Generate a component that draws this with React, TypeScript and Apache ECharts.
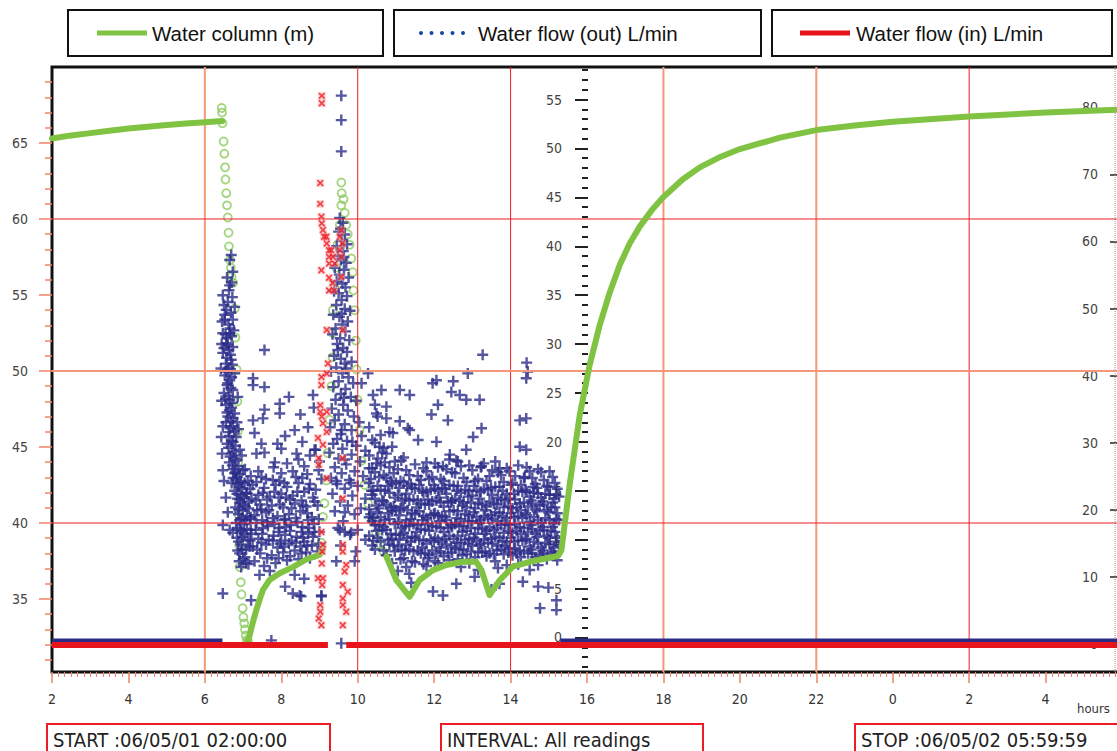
import React, { useEffect, useRef } from "react";
import * as echarts from "echarts";

// ---------- axis ranges / tick values ----------
const X_MIN = 2;
const X_MAX = 30;
const LEFT_MIN = 30.2;
const LEFT_MAX = 70;
const MID_MIN = -3.53;
const MID_MAX = 58.33;
const RIGHT_MIN = -4.17;
const RIGHT_MAX = 86;

const leftMajorTicks = [35, 40, 45, 50, 55, 60, 65];
const leftMinorTicks = [31, 32, 33, 34, 36, 37, 38, 39, 41, 42, 43, 44, 46, 47, 48, 49, 51, 52, 53, 54, 56, 57, 58, 59, 61, 62, 63, 64, 66, 67, 68, 69];
const midMajorTicks = [0, 5, 10, 15, 20, 25, 30, 35, 40, 45, 50, 55];
const midMinorTicks = [-3, -2, -1, 1, 2, 3, 4, 6, 7, 8, 9, 11, 12, 13, 14, 16, 17, 18, 19, 21, 22, 23, 24, 26, 27, 28, 29, 31, 32, 33, 34, 36, 37, 38, 39, 41, 42, 43, 44, 46, 47, 48, 49, 51, 52, 53, 54, 56, 57, 58];
const rightTicks = [0, 10, 20, 30, 40, 50, 60, 70, 80];

const salmonGridX = [6, 18, 22];
const redGridX = [10, 14, 26];
const salmonGridY = [50];
const redGridY = [60, 40];
const rightEdgeHour = 29.82;

// ---------- Water column (m), left axis ----------
const waterColumnStart = [[2, 65.3], [2.5, 65.5], [3, 65.65], [3.5, 65.8], [4, 65.95], [4.5, 66.07], [5, 66.18], [5.5, 66.28], [6, 66.36], [6.46, 66.45]];
const waterColumnRefill = [[7.12, 32.2], [7.17, 32.6], [7.26, 33.5], [7.35, 34.3], [7.45, 35.1], [7.52, 35.6], [7.69, 36.25], [7.96, 36.7], [8.3, 37.1], [8.65, 37.6], [9.0, 37.9], [9.08, 38.2]];
const waterColumnRecovery = [[10.75, 37.8], [11.01, 36.25], [11.36, 35.15], [11.62, 36.25], [11.97, 36.9], [12.32, 37.24], [12.75, 37.45], [13.1, 37.45], [13.24, 36.9], [13.45, 35.26], [13.72, 36.25], [14.06, 37.13], [14.5, 37.45], [14.94, 37.68], [15.24, 37.83], [15.33, 38.2], [15.55, 42.6], [15.81, 47.1], [16.07, 50.4], [16.33, 53.0], [16.6, 55.2], [16.86, 57.0], [17.12, 58.4], [17.38, 59.5], [17.7, 60.6], [17.98, 61.4], [18.5, 62.6], [18.95, 63.4], [19.5, 64.1], [20.0, 64.6], [21.05, 65.35], [22.0, 65.85], [23.0, 66.15], [24.0, 66.4], [26.0, 66.75], [28.0, 67.0], [30.0, 67.2]];
const waterColumnDropReadings = [[6.44, 67.3], [6.45, 67.0], [6.46, 66.3], [6.49, 65.1], [6.51, 64.3], [6.53, 63.4], [6.54, 62.6], [6.56, 61.7], [6.58, 60.9], [6.6, 60.1], [6.62, 59.1], [6.63, 58.2], [6.66, 57.3], [6.68, 56.8], [6.7, 56.2], [6.74, 55.8], [6.78, 54.1], [6.8, 52.2], [6.83, 50.1], [6.85, 48.0], [6.86, 46.0], [6.87, 44.0], [6.88, 42.5], [6.89, 40.5], [6.9, 38.5], [6.91, 37.1], [6.94, 36.1], [6.96, 35.3], [6.99, 34.4], [7.01, 33.8], [7.03, 33.4], [7.05, 33.0], [7.07, 32.6], [7.1, 32.3], [7.13, 32.2]];
const waterColumnSpikeReadings = [[9.05, 38.7], [9.09, 40.4], [9.13, 41.3], [9.18, 42.8], [9.21, 44.6], [9.26, 46.8], [9.31, 49.0], [9.34, 50.9], [9.34, 52.5], [9.35, 54.0], [9.4, 55.5], [9.44, 56.8], [9.47, 58.3], [9.53, 59.6], [9.57, 60.9], [9.58, 61.7], [9.57, 62.4], [9.63, 61.3], [9.66, 60.4], [9.7, 59.6], [9.74, 59.0], [9.79, 58.3], [9.83, 57.4], [9.87, 56.5], [9.89, 55.3], [9.92, 54.0], [9.95, 52.0], [9.97, 50.1], [10.0, 48.1], [10.05, 46.1], [10.1, 44.1], [10.18, 42.5], [10.27, 41.3], [10.37, 40.2], [10.48, 39.3], [10.58, 38.6], [10.68, 38.1]];

// ---------- Water flow (out) L/min, middle axis ----------
const flowOutBaseline = [[2, -0.3], [6.46, -0.3], [6.47, null], [15.3, -0.3], [30, -0.3]];
const flowOutSpikeLeft = [[6.69, 39.1], [6.65, 38.6], [6.73, 37.4], [6.65, 36.0], [6.47, 35.0], [6.72, 34.8], [6.6, 34.3], [6.56, 33.5], [6.68, 33.2], [6.52, 32.5], [6.73, 32.5], [6.62, 32.0], [6.47, 31.1], [6.65, 31.1], [6.58, 30.6], [6.56, 30.1], [6.73, 29.7], [6.63, 29.4], [6.47, 29.1], [6.69, 28.4], [6.55, 28.0], [6.6, 27.4], [6.78, 27.0], [6.52, 26.8], [6.65, 26.3], [6.58, 25.8], [6.73, 25.3], [6.5, 25.0], [6.62, 24.7], [6.65, 24.3], [6.55, 23.8], [6.7, 23.5], [6.78, 22.9], [6.6, 22.6], [6.68, 22.1], [6.47, 21.6], [6.73, 21.6], [6.62, 21.0], [6.82, 20.5], [6.7, 20.1], [6.58, 19.8], [6.91, 19.2], [6.75, 19.0], [6.66, 18.5], [6.82, 18.1], [6.72, 17.6], [6.47, 17.1], [6.99, 17.1], [6.78, 16.8], [6.85, 16.4], [6.82, 16.1], [6.7, 15.8], [7.04, 15.8], [6.9, 15.4], [6.78, 15.0], [7.08, 14.7], [6.95, 14.5], [6.85, 14.2], [6.91, 14.1], [7.0, 13.6], [6.8, 13.3], [6.99, 13.0], [6.88, 12.6], [7.1, 12.4], [6.91, 12.0], [7.02, 11.6], [6.47, 11.5], [6.85, 11.2], [6.95, 10.9], [6.73, 10.7], [6.99, 10.3], [7.12, 10.0], [6.88, 9.8], [7.17, 9.3], [6.98, 9.0], [6.91, 8.6], [7.05, 8.2], [7.08, 7.6], [6.95, 7.2], [7.43, 6.4], [6.47, 4.5], [7.21, 3.8],
  [6.5, 34.0], [6.63, 35.5], [6.58, 36.8], [6.7, 36.3], [6.52, 33.0], [6.66, 31.6], [6.54, 31.0], [6.7, 30.8], [6.6, 29.9], [6.5, 29.6], [6.67, 28.9], [6.57, 28.6], [6.72, 27.9], [6.63, 27.6], [6.56, 27.2], [6.7, 26.6], [6.6, 26.0], [6.68, 25.5], [6.54, 24.4], [6.72, 24.0], [6.64, 23.2], [6.58, 23.0], [6.74, 22.4], [6.55, 22.0], [6.66, 21.4], [6.77, 21.1], [6.64, 20.6], [6.74, 20.0], [6.62, 19.4], [6.8, 19.6], [6.7, 18.8], [6.78, 18.3], [6.64, 17.9], [6.74, 17.2], [6.88, 17.5], [6.8, 16.9], [6.92, 16.7], [6.74, 16.3], [6.94, 15.9], [6.86, 15.7], [6.98, 15.2], [6.84, 14.7], [7.02, 14.3], [6.92, 13.8], [7.06, 13.4], [6.88, 13.1], [6.96, 12.2], [7.06, 12.0], [6.82, 11.7], [6.92, 11.0], [7.04, 10.6], [6.84, 10.2], [6.94, 9.5], [7.08, 9.0], [6.86, 8.9], [7.0, 8.0], [7.14, 7.5], [6.9, 7.8],
  [6.42, 27.5], [6.44, 24.2], [6.43, 20.5], [6.45, 18.8], [6.5, 16.0], [6.55, 14.3], [6.6, 12.8], [6.65, 11.0], [6.86, 24.6], [6.84, 22.0], [6.88, 21.3], [6.96, 18.6], [7.05, 17.2], [7.12, 16.0], [7.15, 13.9], [7.2, 12.3], [7.1, 11.1], [6.45, 32.3], [6.44, 30.0], [6.76, 31.4], [6.78, 33.8]];
const flowOutLowCloud = [[7.2, 16.5], [7.4, 17.0], [7.6, 16.2], [7.8, 17.4], [8.0, 16.8], [8.15, 17.8], [8.3, 17.0], [8.45, 18.2], [8.6, 17.5], [8.75, 18.6], [8.9, 19.2], [9.0, 18.0],
  [7.1, 14.8], [7.25, 15.6], [7.4, 14.6], [7.55, 15.3], [7.7, 14.4], [7.85, 15.6], [8.0, 14.7], [8.15, 15.4], [8.3, 14.5], [8.45, 15.8], [8.6, 14.9], [8.75, 15.7], [8.9, 15.1], [9.05, 16.2], [7.35, 15.9], [7.95, 16.0], [8.55, 16.3],
  [7.15, 13.2], [7.3, 12.5], [7.45, 13.6], [7.6, 12.8], [7.75, 13.5], [7.9, 12.4], [8.05, 13.3], [8.2, 12.6], [8.35, 13.7], [8.5, 12.9], [8.65, 13.4], [8.8, 12.3], [8.95, 13.5], [7.5, 12.0], [8.1, 12.1], [8.7, 12.0],
  [7.2, 11.0], [7.35, 11.7], [7.5, 10.6], [7.65, 11.4], [7.8, 10.4], [7.95, 11.2], [8.1, 10.5], [8.25, 11.5], [8.4, 10.3], [8.55, 11.3], [8.7, 10.6], [8.85, 11.6], [9.0, 10.8], [7.4, 10.1], [8.0, 9.9], [8.6, 9.8],
  [7.25, 9.3], [7.45, 8.6], [7.6, 9.5], [7.75, 8.4], [7.9, 9.2], [8.05, 8.7], [8.2, 9.6], [8.35, 8.9], [8.5, 9.3], [8.65, 8.7], [8.8, 9.4], [8.95, 8.8], [7.3, 7.8], [7.55, 7.3], [7.7, 6.8], [7.85, 7.6], [8.15, 7.9], [8.45, 8.0], [8.75, 8.1],
  [7.18, 15.2], [7.18, 12.1], [7.18, 9.9], [7.33, 14.0], [7.33, 11.0], [7.48, 16.4], [7.48, 13.1], [7.48, 9.7], [7.63, 14.1], [7.63, 11.8], [7.63, 8.1], [7.78, 16.1], [7.78, 12.2], [7.78, 9.9], [7.93, 14.3], [7.93, 10.8], [7.93, 8.1], [8.08, 15.8], [8.08, 12.0], [8.08, 9.3], [8.23, 14.1], [8.23, 10.9], [8.23, 8.3], [8.38, 16.4], [8.38, 12.2], [8.38, 9.7], [8.53, 14.0], [8.53, 10.8], [8.53, 8.6], [8.68, 16.7], [8.68, 12.7], [8.68, 9.4], [8.83, 14.3], [8.83, 10.3], [8.98, 17.1], [8.98, 12.1], [8.98, 9.6],
  [7.22, 14.2], [7.22, 10.6], [7.37, 13.0], [7.37, 9.0], [7.52, 14.8], [7.52, 11.2], [7.67, 13.0], [7.67, 10.0], [7.82, 14.9], [7.82, 11.6], [7.97, 13.6], [7.97, 9.6], [8.12, 14.3], [8.12, 11.3], [8.27, 13.2], [8.27, 9.9], [8.42, 14.9], [8.42, 11.8], [8.57, 13.5], [8.57, 10.2], [8.72, 15.2], [8.72, 11.2], [8.87, 13.9], [8.87, 10.8],
  [7.26, 26.5], [7.56, 29.4], [7.56, 25.6], [7.26, 25.8], [7.96, 23.9], [7.56, 23.3], [7.96, 22.9], [7.26, 22.2], [7.52, 22.4], [7.3, 20.9], [8.0, 19.3], [7.35, 18.8], [7.56, 18.9], [7.83, 17.9], [7.48, 19.8], [8.1, 20.6], [8.35, 21.2], [8.55, 20.0], [8.7, 21.5], [8.85, 23.5], [8.5, 22.8], [8.2, 24.6], [8.83, 24.8], [8.87, 19.2], [8.4, 18.8], [7.9, 19.8],
  [8.3, 4.5], [8.48, 4.3], [8.35, 6.4], [9.05, 4.3], [7.74, -0.3], [8.1, 5.2], [8.6, 6.0], [8.52, 4.2], [9.57, -0.6]];
const flowOutSpikeRight = [[9.57, 55.4], [9.57, 52.9], [9.57, 49.7],
  [9.53, 42.9], [9.61, 42.4], [9.5, 41.5], [9.66, 41.2], [9.58, 40.6], [9.72, 40.2], [9.45, 40.0], [9.62, 39.5],
  [9.48, 39.0], [9.56, 38.6], [9.7, 38.3], [9.4, 37.8], [9.64, 37.6], [9.52, 37.1], [9.76, 36.8], [9.45, 36.4], [9.6, 36.2], [9.68, 35.8],
  [9.38, 35.4], [9.5, 35.2], [9.72, 34.9], [9.58, 34.5], [9.44, 34.0], [9.66, 33.6], [9.8, 33.4], [9.36, 33.0], [9.52, 32.8], [9.74, 32.3], [9.6, 32.0],
  [9.42, 31.6], [9.68, 31.3], [9.34, 31.0], [9.54, 30.6], [9.78, 30.4], [9.46, 30.0], [9.62, 29.6], [9.72, 29.2], [9.38, 28.8], [9.56, 28.5], [9.84, 28.2], [9.66, 28.0],
  [9.44, 27.6], [9.3, 27.2], [9.6, 27.0], [9.76, 26.6], [9.5, 26.2], [9.88, 26.0], [9.36, 25.6], [9.68, 25.4], [9.56, 24.9], [9.82, 24.6], [9.42, 24.3], [9.96, 24.2],
  [9.62, 23.8], [9.32, 23.4], [9.74, 23.2], [9.5, 22.8], [9.9, 22.6], [9.4, 22.2], [10.04, 22.0], [9.66, 21.8], [9.28, 21.5], [9.84, 21.2], [9.56, 20.8], [10.1, 20.6], [9.46, 20.3], [9.72, 20.1],
  [9.36, 19.8], [9.96, 19.6], [9.6, 19.3], [10.2, 19.1], [9.26, 18.9], [9.84, 18.7], [9.5, 18.3], [10.06, 18.0], [9.7, 17.7], [9.4, 17.4], [10.3, 17.3], [9.92, 17.0], [9.58, 16.8], [10.14, 16.5], [9.3, 16.3], [9.78, 16.1],
  [9.46, 15.7], [10.0, 15.5], [9.66, 15.2], [10.36, 15.0], [9.34, 14.7], [9.86, 14.5], [10.2, 14.2], [9.54, 13.9], [9.74, 13.5], [10.08, 13.2], [9.4, 12.9], [9.92, 12.6], [10.3, 12.3],
  [9.62, 11.9], [9.48, 11.2], [10.0, 11.0], [9.8, 10.5], [10.2, 10.0], [9.55, 9.4], [9.95, 8.8],
  [9.55, 41.8], [9.64, 38.9], [9.58, 33.1], [9.48, 29.4], [9.7, 27.5], [9.64, 24.5], [9.58, 21.2], [9.86, 20.0], [9.66, 18.2], [9.44, 16.0], [9.82, 15.8], [9.66, 12.8],
  [9.66, 10.8], [9.53, 11.0], [9.83, 10.7], [9.92, 7.8], [9.44, 7.8], [9.05, 4.2]];
const flowOutTailColumns: [number, number[]][] = [
  [10.3, [21.5, 18.6, 15.8, 13.1, 10.4]], [10.34, [16.2, 12.6]], [10.38, [20.2, 17.3, 14.6, 11.9, 9.4]], [10.41, [15.0, 12.2, 9.9]],
  [10.45, [23.8, 19.9, 16.9, 14.2, 11.5, 9.0]], [10.49, [17.8, 13.5, 10.9]], [10.52, [22.6, 18.3, 15.5, 12.8, 10.2]], [10.56, [16.4, 13.2, 11.5]],
  [10.6, [20.7, 17.6, 15.1, 12.3, 9.8]], [10.64, [18.9, 14.0, 11.0]], [10.68, [19.4, 16.6, 13.9, 11.3, 8.9]], [10.71, [17.9, 15.0, 12.0]],
  [10.75, [22.4, 18.8, 16.3, 13.6, 11.0, 8.4]], [10.79, [15.5, 12.7, 10.0]], [10.83, [21.0, 17.4, 14.8, 12.1, 9.5]], [10.86, [16.0, 13.3, 10.6]],
  [10.9, [19.5, 15.7, 12.9, 10.1, 7.6]], [10.94, [16.8, 13.4, 9.4]], [10.97, [18.0, 14.3, 11.6, 8.8]], [11.0, [15.8, 13.0, 10.5]],
  [11.05, [17.2, 14.6, 11.8, 9.3, 6.8]], [11.09, [15.3, 12.5, 10.0]], [11.12, [16.0, 13.2, 10.5, 8.0]], [11.15, [14.0, 11.2, 9.0]],
  [11.2, [18.4, 15.9, 13.3, 10.7, 8.1]], [11.24, [14.2, 11.4, 8.9]], [11.27, [17.1, 14.7, 12.0, 9.5, 7.2]], [11.3, [15.5, 13.0, 10.2]],
  [11.35, [16.6, 14.0, 11.4, 9.0, 6.5]], [11.39, [15.7, 12.1, 9.8]], [11.42, [15.3, 12.7, 10.3, 7.8]], [11.46, [14.1, 11.6, 8.8]],
  [11.5, [17.7, 15.2, 12.6, 10.2, 7.7]], [11.54, [13.3, 10.8]], [11.57, [16.5, 14.0, 11.5, 8.9]], [11.61, [15.6, 12.9, 10.0]],
  [11.65, [16.1, 13.7, 11.1, 8.6]], [11.69, [15.0, 12.0, 9.2]], [11.72, [17.3, 14.8, 12.4, 9.9, 7.5]], [11.76, [13.6, 11.0, 8.6]],
  [11.8, [17.9, 14.9, 12.2, 9.6, 7.3]], [11.84, [14.1, 11.6, 8.1]], [11.87, [16.2, 13.6, 10.9, 8.4]], [11.91, [15.1, 12.5, 10.0]],
  [11.95, [16.4, 13.9, 11.4, 8.9]], [11.99, [15.6, 12.6, 9.8]], [12.02, [17.8, 15.2, 12.7, 10.2, 7.8]], [12.06, [14.0, 11.3, 8.6]],
  [12.1, [17.4, 15.0, 12.5, 10.0, 7.6]], [12.14, [14.3, 11.9, 9.2]], [12.17, [16.2, 13.8, 11.2, 8.8]], [12.21, [15.3, 12.4, 9.8]],
  [12.25, [16.0, 13.4, 10.8, 8.3]], [12.29, [15.2, 12.3, 10.1]], [12.32, [17.2, 14.7, 12.0, 9.5]], [12.36, [13.9, 11.2, 8.6]],
  [12.4, [18.2, 15.6, 12.9, 10.4, 7.9]], [12.44, [13.8, 11.5, 9.3]], [12.47, [16.9, 14.0, 11.3, 8.7]], [12.51, [15.5, 13.0, 10.1]],
  [12.55, [16.8, 14.2, 11.6, 9.1]], [12.59, [15.0, 12.2, 9.7]], [12.62, [18.0, 15.5, 12.9, 10.4, 8.0]], [12.66, [14.0, 11.4, 9.0]],
  [12.7, [17.5, 14.8, 12.1, 9.7, 7.2]], [12.74, [13.5, 10.8, 8.4]], [12.77, [16.3, 13.8, 11.4, 9.0]], [12.81, [15.1, 12.6, 10.0]],
  [12.85, [15.9, 13.3, 10.9, 8.5]], [12.89, [14.4, 11.9, 9.6]], [12.92, [17.6, 15.0, 12.5, 10.1, 7.6]], [12.96, [13.8, 11.2, 8.8]],
  [13.0, [17.1, 14.5, 11.9, 9.4]], [13.04, [15.5, 12.8, 10.2]], [13.07, [16.0, 13.2, 10.6, 8.2]], [13.11, [15.0, 12.3, 9.9]],
  [13.15, [16.2, 13.7, 11.2, 8.7, 6.9]], [13.19, [14.2, 11.7, 9.4]], [13.22, [17.4, 14.9, 12.0, 9.6]], [13.26, [13.6, 11.1, 8.7]],
  [13.3, [17.8, 15.2, 12.4, 10.0]], [13.34, [13.0, 10.6, 8.8]], [13.37, [16.0, 13.4, 10.9, 8.3]], [13.41, [15.1, 12.2, 9.7]],
  [13.45, [16.5, 13.9, 11.3, 8.6]], [13.49, [15.3, 12.5, 10.1]], [13.52, [17.1, 14.6, 12.1, 9.6]], [13.56, [13.7, 11.0, 8.5]],
  [13.6, [18.0, 15.4, 12.8, 10.3, 7.8]], [13.64, [13.6, 11.2, 8.9]], [13.67, [16.9, 14.3, 11.9, 9.4, 7.1]], [13.71, [15.4, 12.7, 10.2]],
  [13.75, [16.6, 14.1, 11.5, 9.0]], [13.79, [15.0, 12.4, 9.9]], [13.82, [15.9, 13.3, 10.7, 8.5]], [13.86, [14.0, 11.6, 9.3]],
  [13.9, [17.3, 14.7, 12.2, 9.8, 7.4]], [13.94, [13.4, 10.9, 8.7]], [13.97, [17.0, 14.2, 11.5, 9.1]], [14.01, [15.6, 12.7, 10.2]],
  [14.05, [15.8, 13.2, 10.7, 8.4]], [14.09, [14.7, 12.3, 9.8]], [14.12, [16.5, 14.1, 11.6, 9.1]], [14.16, [13.3, 10.9, 8.6]],
  [14.2, [17.6, 15.0, 12.4, 9.9, 7.5]], [14.24, [13.7, 11.3, 8.9]], [14.27, [15.6, 13.0, 10.6, 8.2]], [14.31, [14.9, 12.2, 9.9]],
  [14.35, [16.3, 13.8, 11.2, 8.8]], [14.39, [15.1, 12.7, 10.0]], [14.42, [17.4, 14.9, 12.5, 10.1]], [14.46, [13.4, 10.8, 8.6]],
  [14.5, [17.0, 14.4, 11.8, 9.3, 6.9]], [14.54, [14.0, 11.5, 9.0]], [14.57, [16.3, 13.7, 11.1, 8.6]], [14.61, [14.8, 12.3, 9.8]],
  [14.65, [15.7, 13.1, 10.6, 8.2]], [14.69, [15.3, 12.9, 10.3]], [14.72, [17.2, 14.7, 12.0, 9.6, 7.4]], [14.76, [13.5, 10.9, 8.4]],
  [14.8, [16.9, 14.3, 11.7, 9.2]], [14.84, [13.9, 11.3, 8.9]], [14.87, [16.1, 13.6, 11.0, 8.6]], [14.91, [14.7, 12.2, 9.7]],
  [14.95, [15.5, 13.0, 10.4, 8.0]], [14.99, [15.4, 12.8, 10.2]], [15.02, [17.0, 14.6, 12.0, 9.5]], [15.06, [13.3, 10.9, 8.6]],
  [15.1, [16.4, 13.8, 11.3, 8.8]], [15.14, [14.2, 11.7, 9.2]], [15.16, [15.8, 13.3, 10.8, 8.4]], [15.19, [14.6, 12.1, 9.8]],
  [15.22, [15.2, 12.7, 10.2, 7.9]], [15.27, [14.4, 12.0, 9.4]],
];
const flowOutTailScatter = [[12.06, 26.3], [12.88, 27.0], [14.41, 26.5], [11.1, 25.3], [11.36, 24.8], [10.4, 24.8], [10.62, 25.3], [12.45, 25.1], [12.67, 24.8], [12.84, 24.3], [13.19, 24.3], [12.1, 23.8], [11.93, 22.8], [11.1, 22.1], [12.36, 22.2], [11.36, 21.2], [13.24, 21.4], [14.24, 22.2], [14.41, 22.4], [13.02, 20.5], [11.58, 20.2], [12.06, 20.0], [14.24, 19.5], [14.41, 19.2], [12.84, 19.2], [11.14, 18.1], [12.41, 18.7], [12.58, 18.1], [11.8, 17.0], [12.23, 17.5], [13.24, 17.5], [13.71, 17.3], [14.37, 16.4], [14.59, 15.4], [10.27, 27.0], [10.1, 26.0], [10.49, 22.9], [10.75, 23.6], [10.92, 20.9], [10.57, 19.5], [11.31, 21.4], [13.27, 28.9], [14.42, 28.1], [14.45, 27.2], [11.96, 26.0], [12.5, 26.2],
  [11.97, 4.7], [12.23, 4.3], [12.58, 5.5], [13.06, 6.2], [13.71, 5.5], [14.32, 5.7], [14.72, 5.2], [14.77, 3.0], [15.2, 3.8], [15.2, 2.8], [14.99, 5.1], [11.4, 5.6], [13.5, 4.9]];

// ---------- Water flow (in) L/min, right axis ----------
const flowInBaseline = [[2, -0.15], [9.22, -0.15], [9.46, null], [9.7, -0.15], [30, -0.15]];
const flowInReadings = [[9.06, 81.7], [9.06, 80.6], [9.02, 68.7], [9.02, 65.6], [9.05, 63.7], [9.06, 62.7], [9.09, 61.7], [9.12, 60.7], [9.18, 60.7], [9.19, 59.7], [9.25, 58.7], [9.31, 58.7], [9.25, 57.7], [9.35, 57.7], [9.25, 56.7], [9.4, 56.7], [9.05, 55.7], [9.25, 54.6], [9.34, 53.8], [9.25, 52.7], [9.38, 52.7], [9.53, 60.7], [9.57, 61.7], [9.6, 59.7], [9.53, 58.7], [9.57, 57.7], [9.57, 54.7], [9.19, 46.8], [9.61, 46.8], [9.22, 41.8], [9.19, 40.3], [9.05, 39.8], [9.05, 38.6], [9.02, 35.6], [9.02, 34.6], [9.19, 34.6], [9.06, 33.9], [9.09, 32.9], [9.19, 31.6], [8.96, 30.7], [9.09, 29.7], [8.98, 27.7], [8.98, 26.7], [9.19, 24.7], [9.61, 21.7], [9.61, 27.7], [9.05, 16.7], [9.09, 14.8], [9.07, 13.8], [9.61, 14.8], [9.61, 13.8], [9.7, 11.8], [9.66, 10.8], [9.06, 12.0], [8.96, 9.8], [9.09, 9.8], [9.07, 8.8], [9.61, 8.8], [9.74, 7.8], [9.61, 6.8], [9.02, 5.8], [9.61, 5.8], [9.7, 4.8], [9.02, 4.8], [8.98, 3.8], [9.05, 2.8], [9.61, 2.8]];

const legendLabels = ["Water column (m)", "Water flow (out) L/min", "Water flow (in) L/min"];
const infoLabels = ["START :06/05/01 02:00:00", "INTERVAL: All readings", "STOP :06/05/02 05:59:59"];

// ---------- styles ----------
const GREEN = "#80c342";
const GREEN_CIRCLE = "#8ccb5e";
const NAVY = "#2a2c88";
const RED = "#ee1c24";
const RED_LINE = "#e8141c";
const SALMON = "#f6977a";
const TICK = "#f2826a";
const PLUS = "path://M3.9,0H6.1V3.9H10V6.1H6.1V10H3.9V6.1H0V3.9H3.9Z";
const AX_FONT = { fontFamily: "'DejaVu Sans Condensed', 'DejaVu Sans', sans-serif", fontSize: 14, color: "#444" };
const LEG_FONT = "'Liberation Sans', Arial, sans-serif";

const flowOutTail = flowOutTailColumns.flatMap(([h, vs]) => vs.map((v) => [h, v]));

function gridLineSeries(data: number[][], color: string, width: number, z: number, type = "solid") {
  return {
    type: "line", yAxisIndex: 0, z, silent: true, showSymbol: false, symbol: "none",
    lineStyle: { color, width, type }, emphasis: { disabled: true }, data,
  };
}

function buildOption() {
  const verticals = [
    ...salmonGridX.map((h) => gridLineSeries([[h, LEFT_MIN], [h, LEFT_MAX]], SALMON, 2, 4)),
    ...redGridX.map((h) => gridLineSeries([[h, LEFT_MIN], [h, LEFT_MAX]], RED, 1, 4)),
    gridLineSeries([[rightEdgeHour, LEFT_MIN], [rightEdgeHour, LEFT_MAX]], "#999", 1, 4, "dotted"),
  ];
  const horizontals = [
    ...salmonGridY.map((v) => gridLineSeries([[X_MIN, v], [X_MAX, v]], SALMON, 2, 4)),
    ...redGridY.map((v) => gridLineSeries([[X_MIN, v], [X_MAX, v]], RED, 1, 4)),
  ];

  const yBase = { type: "value", splitLine: { show: false }, axisLine: { show: false } };
  const legendText = (x: number, text: string) => ({
    type: "text", z: 101, x, y: 33,
    style: { text, fontFamily: LEG_FONT, fontSize: 20.5, fill: "#111", verticalAlign: "middle", textVerticalAlign: "middle" },
  });
  const infoText = (x: number, text: string) => ({
    type: "text", z: 101, x, y: 740,
    style: { text, fontFamily: AX_FONT.fontFamily, fontSize: 20, fill: "#222", verticalAlign: "middle", textVerticalAlign: "middle" },
  });
  const box = (x: number, y: number, width: number, height: number, stroke: string) => ({
    type: "rect", z: 100, shape: { x, y, width, height }, style: { fill: "#fff", stroke, lineWidth: 2 },
  });

  return {
    animation: false,
    backgroundColor: "#fff",
    grid: { left: 52, top: 67, width: 1070, height: 605, show: true, borderColor: "#111", borderWidth: 3, outerBoundsMode: "none", containLabel: false },
    xAxis: {
      type: "value", min: X_MIN, max: X_MAX, interval: 2,
      axisLine: { show: false, onZero: false }, splitLine: { show: false },
      axisTick: { show: true, length: 11, lineStyle: { color: TICK, width: 1.5 } },
      minorTick: { show: true, splitNumber: 12, length: 5, lineStyle: { color: TICK, width: 1 } },
      minorSplitLine: { show: false },
      axisLabel: { ...AX_FONT, color: "#333", margin: 20, formatter: (v: number) => (Number.isInteger(v) && v < X_MAX ? String(v % 24) : "") },
    },
    yAxis: [
      { ...yBase, min: LEFT_MIN, max: LEFT_MAX, position: "left",
        axisTick: { show: true, customValues: leftMajorTicks, length: 13, lineStyle: { color: TICK, width: 1.5 } },
        axisLabel: { ...AX_FONT, customValues: leftMajorTicks, margin: 24 } },
      { ...yBase, min: LEFT_MIN, max: LEFT_MAX, position: "left",
        axisTick: { show: true, customValues: leftMinorTicks, length: 7, lineStyle: { color: TICK, width: 1.5 } },
        axisLabel: { show: false } },
      { ...yBase, min: MID_MIN, max: MID_MAX, position: "left", offset: -536,
        axisTick: { show: true, customValues: midMajorTicks, length: 13, lineStyle: { color: "#222", width: 2 } },
        axisLabel: { ...AX_FONT, customValues: midMajorTicks, margin: 26 } },
      { ...yBase, min: MID_MIN, max: MID_MAX, position: "left", offset: -536,
        axisTick: { show: true, customValues: midMinorTicks, length: 6, lineStyle: { color: "#222", width: 2 } },
        axisLabel: { show: false } },
      { ...yBase, min: RIGHT_MIN, max: RIGHT_MAX, position: "right",
        axisTick: { show: true, inside: true, customValues: rightTicks, length: 12, lineStyle: { color: "#222", width: 1.5 } },
        axisLabel: { ...AX_FONT, inside: true, customValues: rightTicks, margin: 24 } },
    ],
    series: [
      ...verticals,
      ...horizontals,
      { name: legendLabels[0], type: "scatter", yAxisIndex: 0, z: 2, symbol: "circle", symbolSize: 8,
        itemStyle: { color: "rgba(0,0,0,0)", borderColor: GREEN_CIRCLE, borderWidth: 1.8 },
        data: [...waterColumnDropReadings, ...waterColumnSpikeReadings] },
      { name: legendLabels[1], type: "scatter", yAxisIndex: 2, z: 3, symbol: PLUS, symbolSize: 11,
        itemStyle: { color: NAVY },
        data: [...flowOutSpikeLeft, ...flowOutLowCloud, ...flowOutSpikeRight, ...flowOutTail, ...flowOutTailScatter] },
      ...[waterColumnStart, waterColumnRefill, waterColumnRecovery].map((seg) => ({
        name: legendLabels[0], type: "line", yAxisIndex: 0, z: 5, showSymbol: false, symbol: "none",
        lineStyle: { color: GREEN, width: 6, cap: "round", join: "round" }, data: seg,
      })),
      { name: legendLabels[2], type: "scatter", yAxisIndex: 4, z: 6, symbol: "rect", symbolSize: 8,
        itemStyle: { color: "rgba(248,170,170,0.55)" }, data: flowInReadings },
      { name: legendLabels[2], type: "scatter", yAxisIndex: 4, z: 6, symbol: PLUS, symbolRotate: 45, symbolSize: 8,
        itemStyle: { color: RED }, data: flowInReadings },
      { name: legendLabels[1], type: "line", yAxisIndex: 2, z: 7, showSymbol: false, symbol: "none", connectNulls: false,
        lineStyle: { color: NAVY, width: 4 }, data: flowOutBaseline },
      { name: legendLabels[2], type: "line", yAxisIndex: 4, z: 8, showSymbol: false, symbol: "none", connectNulls: false,
        lineStyle: { color: RED_LINE, width: 6 }, data: flowInBaseline },
    ],
    graphic: [
      box(68, 10, 315, 46, "#111"),
      { type: "line", z: 101, shape: { x1: 97, y1: 33, x2: 147, y2: 33 }, style: { stroke: GREEN, lineWidth: 5 } },
      legendText(152, legendLabels[0]),
      box(394, 10, 367, 46, "#111"),
      ...[421, 431.5, 442, 452.5, 463].map((cx) => ({ type: "circle", z: 101, shape: { cx, cy: 33, r: 2 }, style: { fill: "#1c46a8" } })),
      legendText(478, legendLabels[1]),
      box(772, 10, 340, 46, "#111"),
      { type: "line", z: 101, shape: { x1: 800, y1: 33, x2: 850, y2: 33 }, style: { stroke: RED_LINE, lineWidth: 5 } },
      legendText(856, legendLabels[2]),

      { type: "text", z: 101, x: 1077, y: 708,
        style: { text: "hours", fontFamily: AX_FONT.fontFamily, fontSize: 13, fill: "#333", verticalAlign: "middle", textVerticalAlign: "middle" } },

      box(47, 724, 283, 34, RED),
      infoText(53, infoLabels[0]),
      box(441, 724, 262, 34, RED),
      infoText(447, infoLabels[1]),
      box(855, 724, 275, 34, RED),
      infoText(861, infoLabels[2]),
    ],
  };
}

export default function App() {
  const ref = useRef<HTMLDivElement>(null);
  useEffect(() => {
    if (!ref.current) return;
    const chart = echarts.init(ref.current, null, { renderer: "svg" });
    chart.setOption(buildOption() as any);
    return () => chart.dispose();
  }, []);
  return (
    <div style={{ position: "fixed", left: 0, top: 0, width: 1117, height: 751, overflow: "hidden", background: "#fff" }}>
      <div ref={ref} style={{ width: 1130, height: 751 }} />
    </div>
  );
}
